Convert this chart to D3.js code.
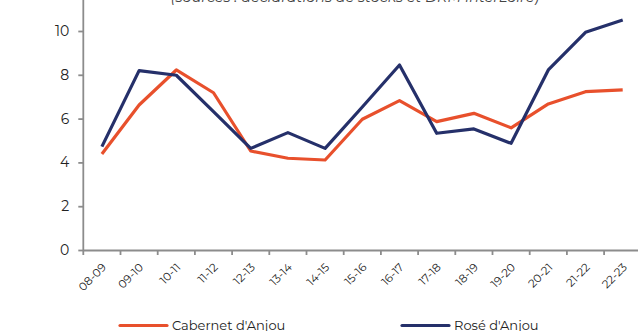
<!DOCTYPE html>
<html><head><meta charset="utf-8">
<script src="https://cdn.jsdelivr.net/npm/d3@7"></script>
<style>body{margin:0;background:#fff}svg{display:block}</style>
</head><body>
<svg id="c" width="638" height="331"></svg>
<script>
const categories = ["08-09","09-10","10-11","11-12","12-13","13-14","14-15","15-16","16-17","17-18","18-19","19-20","20-21","21-22","22-23"];
const cabernet = [4.38,6.62,8.22,7.18,4.52,4.19,4.11,5.97,6.82,5.86,6.24,5.58,6.67,7.23,7.31];
const rose = [4.72,8.19,7.98,6.32,4.64,5.36,4.64,6.53,8.45,5.33,5.53,4.87,8.22,9.94,10.5];
const seriesNames = ["Cabernet d'Anjou","Rosé d'Anjou"];
const yTicks = [0,2,4,6,8,10];
const subtitle = "(sources : déclarations de stocks et DRM InterLoire)";

const font = "Montserrat, 'Noto Sans', sans-serif";
const svg = d3.select("#c");
const x = d3.scaleBand().domain(categories).range([83.3, 83.3 + 37.2*15]);
const y = d3.scaleLinear().domain([0, 10]).range([250, 31]);

svg.append("text").attr("x", 355).attr("y", 2).attr("text-anchor","middle")
  .attr("font-family", font).attr("font-style","italic").attr("font-size", 14.4).attr("fill","#444")
  .text(subtitle);

const yAx = svg.append("g").attr("transform","translate(83.3,0)")
  .call(d3.axisLeft(y).tickValues(yTicks).tickSize(5).tickPadding(9).tickFormat(d3.format("d")));
yAx.select(".domain").attr("d", "M0,-20V250");
const xAx = svg.append("g").attr("transform","translate(0,250)")
  .call(d3.axisBottom(x).tickSize(0).tickFormat(""));
xAx.selectAll(".bnd").data(categories.concat(["_end"])).enter().append("line")
  .attr("x1",(d,i)=>x.range()[0]+i*x.step()).attr("x2",(d,i)=>x.range()[0]+i*x.step())
  .attr("y1",0).attr("y2",5);
xAx.selectAll(".lbl").data(categories).enter().append("text")
  .attr("transform", d => `translate(${x(d)+x.bandwidth()/2+5},${18}) rotate(-45)`)
  .attr("text-anchor","end").attr("font-size", 11.3).attr("fill","#222").attr("font-family",font).text(d=>d);
[yAx, xAx].forEach(g => {
  g.selectAll(".domain, line").attr("stroke","#8c8c8c").attr("stroke-width",1.8);
  g.selectAll(".tick text").attr("font-family",font).attr("font-size",14).attr("fill","#222");
});

const cx = d => x(d) + x.bandwidth()/2;
const line = vals => d3.line().x((d,i)=>cx(categories[i])).y(d=>y(d))(vals);
const colors = ["#e8502c","#25306a"];
[cabernet, rose].forEach((s,k) => {
  svg.append("path").attr("d", line(s)).attr("fill","none").attr("stroke",colors[k])
    .attr("stroke-width",3.2).attr("stroke-linejoin","round");
});

const lg = [{x:120},{x:402}];
seriesNames.forEach((n,k) => {
  svg.append("line").attr("x1",lg[k].x).attr("x2",lg[k].x+47).attr("y1",325.5).attr("y2",325.5)
    .attr("stroke",colors[k]).attr("stroke-width",3.2).attr("stroke-linecap","round");
  svg.append("text").attr("x",lg[k].x+52).attr("y",330).attr("font-family",font).attr("font-size",13)
    .attr("fill","#222").text(n);
});
</script>
</body></html>
